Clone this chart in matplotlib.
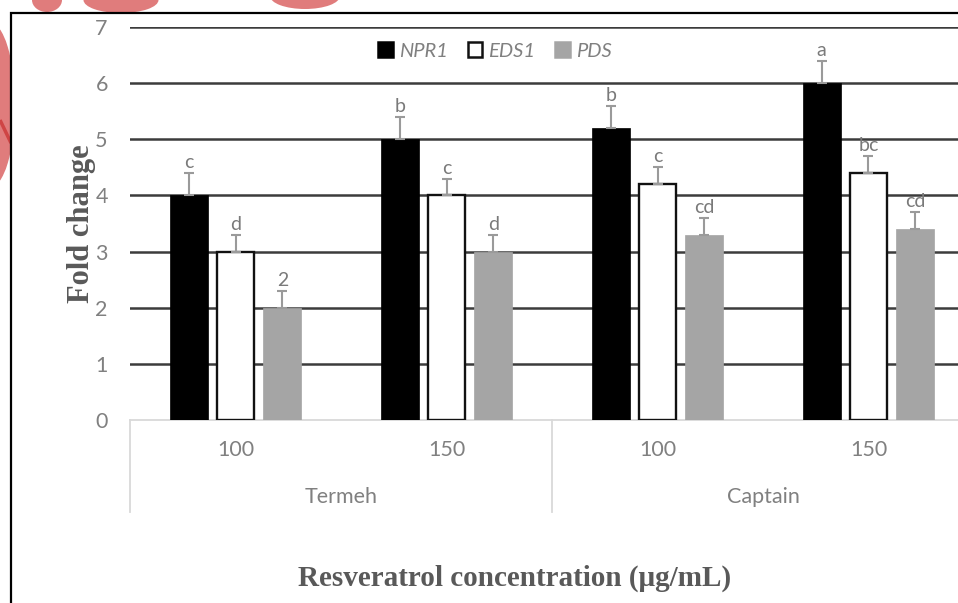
import matplotlib
matplotlib.use("Agg")
import matplotlib.pyplot as plt
import numpy as np
from matplotlib.patches import Ellipse, Rectangle
from matplotlib.transforms import blended_transform_factory

# ---- data ----
cultivars = ["Termeh", "Captain"]
concentrations = ["100", "150", "100", "150"]
genes = ["NPR1", "EDS1", "PDS"]
npr1 = [4.0, 5.0, 5.2, 6.0]
eds1 = [3.0, 4.0, 4.2, 4.4]
pds = [2.0, 3.0, 3.3, 3.4]
npr1_err = [0.4, 0.4, 0.4, 0.4]
eds1_err = [0.3, 0.3, 0.3, 0.3]
pds_err = [0.3, 0.3, 0.3, 0.3]
npr1_letters = ["c", "b", "b", "a"]
eds1_letters = ["d", "c", "c", "bc"]
pds_letters = ["2", "d", "cd", "cd"]
y_ticks = [0, 1, 2, 3, 4, 5, 6, 7]

W, H = 958, 603
fig = plt.figure(figsize=(W / 100, H / 100), dpi=100)
fig.patch.set_facecolor("white")

# background layer in pixel coordinates (watermark fragments + frame)
bg = fig.add_axes([0, 0, 1, 1], zorder=0)
bg.set_xlim(0, W)
bg.set_ylim(H, 0)
bg.axis("off")
red = "#e07c7c"
for (cx, cy, w, h) in [(47, 0, 30, 24), (121, 0, 75, 26), (305, -4, 70, 26), (-10, 105, 50, 165)]:
    bg.add_patch(Ellipse((cx, cy), w, h, facecolor=red, edgecolor="none", zorder=0.5))
bg.plot([0, 11], [120, 143], color="#cf4545", lw=2.5, solid_capstyle="butt", zorder=0.6)
bg.add_patch(Rectangle((11.5, 12.5), 1000, 700, facecolor="white", edgecolor="black", lw=1.6, zorder=1))

# ---- main axes ----
left_px, right_px, top_px, bot_px = 130, 974, 27, 420
ax = fig.add_axes([left_px / W, (H - bot_px) / H, (right_px - left_px) / W, (bot_px - top_px) / H], zorder=2)
ax.patch.set_alpha(0)

x = np.arange(len(concentrations))
off = 0.222
bw = 0.18
colors = ["#000000", "#ffffff", "#a5a5a5"]
edges = ["#000000", "#111111", "#a5a5a5"]
series = [npr1, eds1, pds]
errs = [npr1_err, eds1_err, pds_err]
letters = [npr1_letters, eds1_letters, pds_letters]
for i, (vals, err, lab) in enumerate(zip(series, errs, letters)):
    xs = x + (i - 1) * off
    ax.bar(xs, vals, width=bw, color=colors[i], edgecolor=edges[i],
           linewidth=1.7 if i == 1 else 0.5, label=genes[i], zorder=3)
    ax.errorbar(xs, vals, yerr=[np.zeros(len(vals)), err], fmt="none",
                ecolor="#9a9a9a", elinewidth=1.5, capsize=3.6, capthick=1.5, zorder=4)
    for xi, v, e, t in zip(xs, vals, err, lab):
        ax.annotate(t, (xi, v + e), xytext=(0, 1.5), textcoords="offset points",
                    ha="center", va="bottom", fontsize=14, color="#7a7a7a",
                    family="Lato", zorder=5)

ax.set_xlim(-0.5, 3.5)
ax.set_ylim(0, 7)
ax.set_yticks(y_ticks)
ax.set_yticklabels([str(t) for t in y_ticks], fontsize=15.5, color="#808080", family="Lato")
ax.tick_params(axis="y", length=0, pad=16)
ax.set_xticks([])
for s in ["top", "right", "left"]:
    ax.spines[s].set_visible(False)
ax.spines["bottom"].set_color("#d9d9d9")
ax.spines["bottom"].set_linewidth(1.3)
ax.set_axisbelow(True)
ax.yaxis.grid(True, color="#3c3c3c", linewidth=1.8)
ax.get_ygridlines()[0].set_visible(False)

# multi-level category axis
trans = blended_transform_factory(ax.transData, fig.transFigure)
y_top = (H - bot_px) / H
y_sep = (H - 512) / H
for xs in [-0.5, 1.5]:
    ax.plot([xs, xs], [y_top, y_sep], transform=trans, color="#d9d9d9", lw=1.3, clip_on=False)
for xi, c in zip(x, concentrations):
    ax.text(xi, (H - 450) / H, c, transform=trans, ha="center", va="center",
            fontsize=15.5, color="#808080", family="Lato")
for gi, g in enumerate(cultivars):
    ax.text(gi * 2 + 0.5, (H - 497) / H, g, transform=trans, ha="center", va="center",
            fontsize=15.5, color="#808080", family="Lato")

# axis titles
fig.text(515 / W, (H - 578) / H, "Resveratrol concentration (μg/mL)", ha="center", va="center",
         fontsize=21, fontweight="bold", family="Liberation Serif", color="#595959")
fig.text(82 / W, (H - 224) / H, "Fold change", ha="center", va="center", rotation=90,
         fontsize=22, fontweight="bold", family="Liberation Serif", color="#595959")

# legend
leg = ax.legend(loc="center", bbox_to_anchor=(495 / W, (H - 51) / H), bbox_transform=fig.transFigure,
                ncol=3, frameon=False, handlelength=0.72, handleheight=0.72, handletextpad=0.3,
                columnspacing=1.0, prop={"family": "Lato", "style": "italic", "size": 14.5})
for t in leg.get_texts():
    t.set_color("#808080")
for hnd in leg.legend_handles:
    hnd.set_linewidth(1.8)

fig.savefig("out.png", dpi=100)
